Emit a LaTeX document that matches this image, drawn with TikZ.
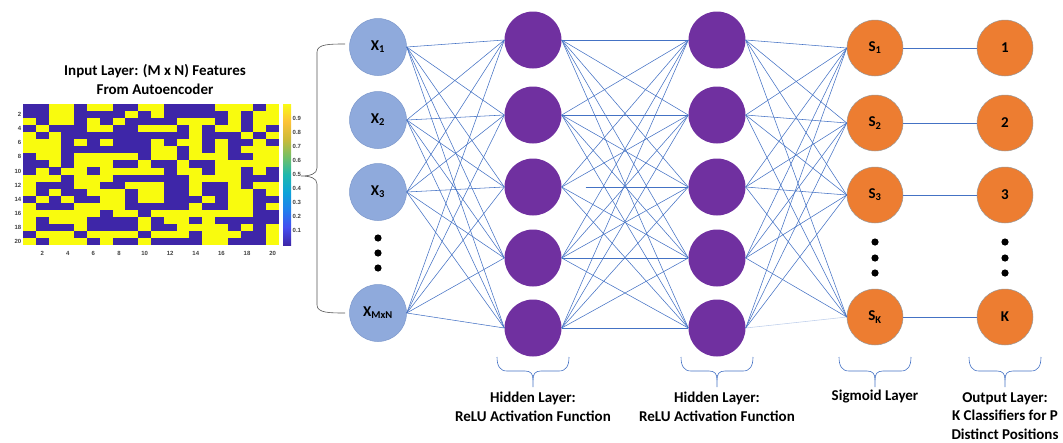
\documentclass[tikz,border=0pt]{standalone}
\usepackage{fontspec}
\setmainfont{Carlito}
\newfontfamily\matfont{Liberation Sans}
\definecolor{hblue}{HTML}{3E26A8}
\definecolor{hyellow}{HTML}{F9FB0E}
\definecolor{inblue}{HTML}{8FAADC}
\definecolor{inborder}{HTML}{7C98CB}
\definecolor{hpurple}{HTML}{7030A0}
\definecolor{sorange}{HTML}{ED7D31}
\definecolor{linec}{HTML}{4472C4}
\definecolor{bracegray}{HTML}{555555}
\definecolor{pa0}{rgb}{0.2422,0.1504,0.6603}
\definecolor{pa1}{rgb}{0.27,0.30,0.94}
\definecolor{pa2}{rgb}{0.13,0.50,0.93}
\definecolor{pa3}{rgb}{0.05,0.64,0.85}
\definecolor{pa4}{rgb}{0.12,0.72,0.68}
\definecolor{pa5}{rgb}{0.45,0.75,0.40}
\definecolor{pa6}{rgb}{0.80,0.73,0.22}
\definecolor{pa7}{rgb}{0.99,0.76,0.22}
\definecolor{pa8}{rgb}{0.976,0.984,0.08}
\pgfdeclareverticalshading{parula}{100bp}{color(0bp)=(pa0); color(25bp)=(pa0); color(31.25bp)=(pa1); color(37.5bp)=(pa2); color(43.75bp)=(pa3); color(50bp)=(pa4); color(56.25bp)=(pa5); color(62.5bp)=(pa6); color(68.75bp)=(pa7); color(75bp)=(pa8); color(100bp)=(pa8)}
\begin{document}
\begin{tikzpicture}[x=1pt,y=-1pt,
  inode/.style={circle,minimum size=57pt,inner sep=0pt,fill=inblue,draw=inborder,line width=0.5pt,font=\bfseries\fontsize{15}{17}\selectfont},
  hnode/.style={circle,minimum size=57pt,inner sep=0pt,fill=hpurple},
  snode/.style={circle,minimum size=56pt,inner sep=0pt,fill=sorange,draw=gray!80,line width=0.5pt,font=\bfseries\fontsize{15}{17}\selectfont},
  conn/.style={draw=linec,line width=0.55pt},
  bracel/.style={draw=linec,line width=0.6pt},
  lbl/.style={font=\bfseries\fontsize{15}{19}\selectfont,align=center,inner sep=0pt},
  ticklbl/.style={font=\matfont\bfseries\fontsize{6}{7}\selectfont,text=black!75,inner sep=0.5pt}]
\useasboundingbox (0,0) rectangle (1063,442);

% heatmap
\fill[hyellow] (23,104) rectangle (279,245);
\foreach \row [count=\r] in {
{1,1,0,0,1,0,0,1,1,0,0,1,1,1,1,0,0,0,1,0},
{1,1,0,0,1,1,1,1,0,1,0,1,1,1,1,1,0,1,0,0},
{0,1,0,0,1,0,1,0,1,1,1,1,0,0,0,1,0,1,0,0},
{1,0,1,1,1,0,0,1,1,0,0,0,1,0,1,0,0,1,0,1},
{0,1,0,1,1,1,1,1,1,1,1,1,1,0,1,1,1,0,1,0},
{0,0,0,1,0,1,0,1,1,1,0,1,0,0,1,0,1,1,0,1},
{0,0,0,1,1,1,1,1,1,1,0,0,1,0,1,0,1,0,0,0},
{1,0,0,1,0,0,0,0,0,1,0,0,1,0,0,0,1,1,0,0},
{1,1,0,1,0,0,0,1,1,0,1,1,0,1,1,0,0,0,0,0},
{1,0,1,0,0,1,0,0,0,0,0,1,0,0,1,0,0,1,0,1},
{0,0,0,1,0,0,0,1,1,1,1,1,1,0,0,0,0,1,1,1},
{0,1,1,1,0,0,1,1,0,0,0,1,1,0,1,1,0,1,0,0},
{0,1,0,1,1,0,0,0,1,0,0,1,1,0,1,1,0,0,1,0},
{1,0,1,0,1,1,0,0,1,0,0,1,1,1,0,1,0,0,1,1},
{0,1,1,1,0,0,0,0,1,1,1,1,1,0,1,1,0,0,1,0},
{0,0,0,0,0,0,1,0,0,1,0,0,0,0,0,0,0,0,1,1},
{0,1,0,0,0,1,1,1,1,0,1,0,0,1,0,1,1,1,1,1},
{0,1,1,1,0,1,1,1,1,0,1,1,0,0,0,0,1,0,1,0},
{1,0,0,0,1,0,0,0,0,1,0,0,0,1,0,0,0,1,1,0},
{0,1,0,0,0,1,0,1,1,0,1,1,1,1,0,0,1,1,1,0}}{
  \foreach \v [count=\c] in \row {
    \ifnum\v=1 \fill[hblue] ({23+12.8*(\c-1)},{104+7.05*(\r-1)}) rectangle ++(12.85,7.1);\fi
  }
}
\shade[shading=parula] (283,104) rectangle (291,245);
\foreach \v in {1,...,9} \node[ticklbl,anchor=west] (cb\v) at (292,{245-14.1*\v}) {0.\v};
\foreach \k in {2,4,...,20} \node[ticklbl,anchor=east] (yt\k) at (22,{104+7.05*(\k-0.5)}) {\k};
\foreach \k in {2,4,...,20} \node[ticklbl] (xt\k) at ({23+12.8*(\k-0.5)},253) {\k};
\node[lbl] (title) at (155,79) {Input Layer: (M x N) Features\\From Autoencoder};

% left brace
\draw[bracegray,line width=0.6pt] (345,44) .. controls (330,44) and (317,44) .. (317,52) -- (317,168) .. controls (317,174) and (310,176) .. (301,176) .. controls (310,176) and (317,178) .. (317,184) -- (317,305) .. controls (317,313) and (330,313) .. (345,313);

% nodes
\node[inode] (in1) at (378,47) {X\textsubscript{1}};
\node[inode] (in2) at (378,120) {X\textsubscript{2}};
\node[inode] (in3) at (378,192) {X\textsubscript{3}};
\node[inode] (in4) at (378,313) {X\textsubscript{MxN}};
\foreach \y [count=\i] in {40,115,187,258,328} {
  \node[hnode] (ha\i) at (533,\y) {};
  \node[hnode] (hb\i) at (717,\y) {};
}
\node[snode] (s1) at (875,48) {S\textsubscript{1}};
\node[snode] (s2) at (875,123) {S\textsubscript{2}};
\node[snode] (s3) at (875,195) {S\textsubscript{3}};
\node[snode] (s4) at (875,317) {S\textsubscript{K}};
\node[snode] (o1) at (1005,48) {1};
\node[snode] (o2) at (1005,123) {2};
\node[snode] (o3) at (1005,195) {3};
\node[snode] (o4) at (1005,317) {K};

% dots
\foreach \y in {238,253,268} \fill (378,\y) circle (3.6);
\foreach \y in {242,258,273} {\fill (875,\y) circle (3.6); \fill (1005,\y) circle (3.6);}

% connections
\foreach \i in {1,...,4} \foreach \j in {1,...,5} \draw[conn] (in\i.east) -- (ha\j.west);
\foreach \i in {1,...,5} \foreach \j in {1,...,5} {
  \ifnum\numexpr\i*10+\j\relax=33 \draw[conn,shorten <=24pt] (ha\i.east) -- (hb\j.west);
  \else \draw[conn] (ha\i.east) -- (hb\j.west);\fi
}
\foreach \i in {1,...,5} \foreach \j in {1,...,4} {
  \ifnum\numexpr\i*10+\j\relax=54 \draw[conn,draw opacity=0.35] (hb\i.east) -- (s\j.west);
  \else \draw[conn] (hb\i.east) -- (s\j.west);\fi
}
\foreach \i in {1,...,4} \draw[conn] (s\i.east) -- (o\i.west);

% bottom braces
\foreach \cx in {533,717,875,1005} {
  \draw[bracel] ({\cx-36},357) .. controls ({\cx-36},366) and ({\cx-33},371) .. ({\cx-26},371) -- ({\cx-8},371) .. controls ({\cx-2},371) and (\cx,374) .. (\cx,380) -- (\cx,387);
  \draw[bracel] ({\cx+36},357) .. controls ({\cx+36},366) and ({\cx+33},371) .. ({\cx+26},371) -- ({\cx+8},371) .. controls ({\cx+2},371) and (\cx,374) .. (\cx,380);
}
\node[lbl] (lh1) at (533,407) {Hidden Layer:\\ReLU Activation Function};
\node[lbl] (lh2) at (717,407) {Hidden Layer:\\ReLU Activation Function};
\node[lbl] (lsg) at (875,397) {Sigmoid Layer};
\node[lbl,font=\bfseries\fontsize{15}{18.5}\selectfont] (lout) at (1005,416) {Output Layer:\\K Classifiers for P\\Distinct Positions};
\end{tikzpicture}
\end{document}
